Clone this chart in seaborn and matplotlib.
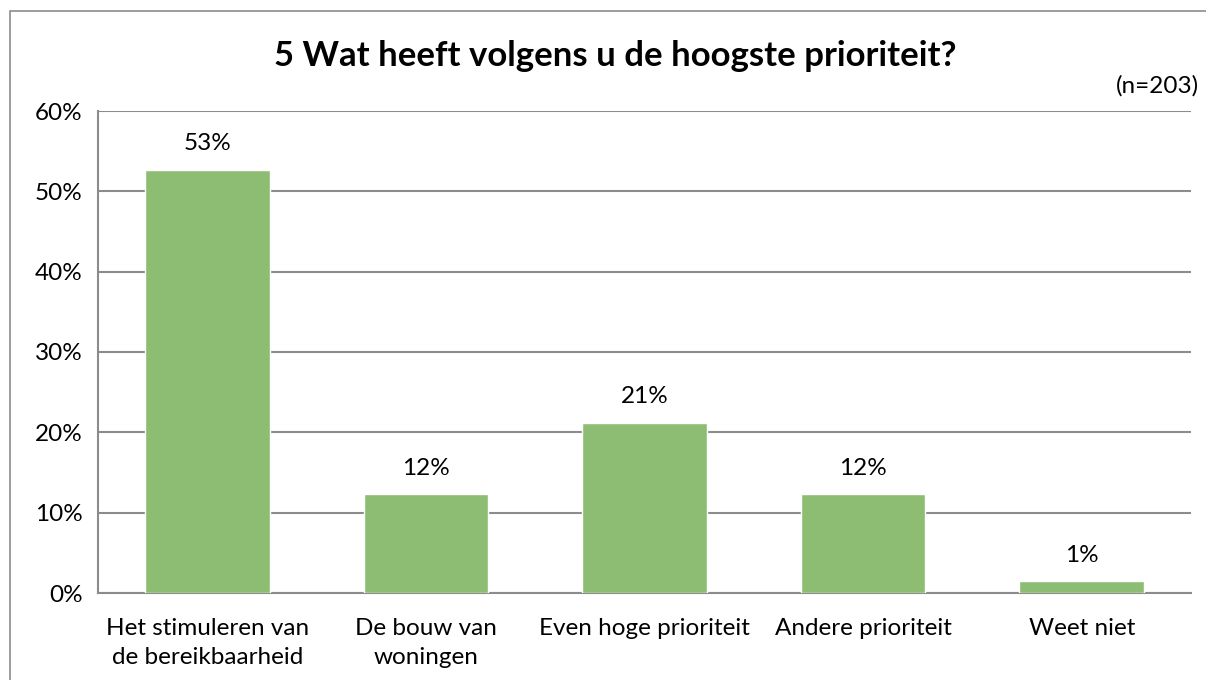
import pandas as pd
import matplotlib.pyplot as plt
import matplotlib
from matplotlib.patches import Rectangle
from matplotlib.ticker import FuncFormatter, MultipleLocator
import seaborn as sns

# Data
categories = ["Het stimuleren van\nde bereikbaarheid", "De bouw van\nwoningen",
              "Even hoge prioriteit", "Andere prioriteit", "Weet niet"]
percentages = [52.7, 12.3, 21.2, 12.3, 1.48]
title = "5 Wat heeft volgens u de hoogste prioriteit?"
n_label = "(n=203)"

sns.set_style("white")
matplotlib.rcParams['font.family'] = ['Lato', 'DejaVu Sans']
matplotlib.rcParams['text.color'] = 'black'
matplotlib.rcParams['xtick.color'] = 'black'
matplotlib.rcParams['ytick.color'] = 'black'

df = pd.DataFrame({'categorie': categories, 'pct': percentages})

fig = plt.figure(figsize=(12.06, 6.8), dpi=100)
ax = fig.add_axes([98 / 1206, 1 - 593 / 680, (1191 - 98) / 1206, (593 - 111) / 680])

grid_col = '#8c8c8c'
bar_col = '#8dbd72'

sns.barplot(data=df, x='categorie', y='pct', color=bar_col, width=0.57,
            saturation=1, ax=ax, zorder=3)

ax.set_ylim(0, 60)
ax.set_xlim(-0.5, len(categories) - 0.5)
ax.yaxis.set_major_locator(MultipleLocator(10))
ax.yaxis.set_major_formatter(FuncFormatter(lambda v, _: f"{v:.0f}%"))
ax.grid(axis='y', color=grid_col, linewidth=1.5, zorder=0)
ax.set_axisbelow(True)

# category ticks on the boundaries, as in the original
ax.set_xticks([i - 0.5 for i in range(len(categories) + 1)], minor=False)
ax.set_xticklabels([])
ax.set_xticks(range(len(categories)), minor=True)
ax.set_xticklabels(categories, minor=True, fontsize=17.5, linespacing=1.5)
ax.tick_params(axis='x', which='major', length=7, width=1.5, color=grid_col, direction='out')
ax.tick_params(axis='x', which='minor', length=0, pad=18, labelcolor='black')
ax.tick_params(axis='y', length=7, width=1.5, color=grid_col, labelsize=17.5, pad=4,
               labelcolor='black')

for side in ['top', 'right']:
    ax.spines[side].set_visible(False)
for side in ['left', 'bottom']:
    ax.spines[side].set_color(grid_col)
    ax.spines[side].set_linewidth(1.5)

ax.set_xlabel('')
ax.set_ylabel('')

for i, v in enumerate(percentages):
    ax.annotate(f"{v:.0f}%", (i, v), xytext=(0, 14), textcoords='offset points',
                ha='center', va='baseline', fontsize=17.5, color='black')

fig.text(615 / 1206, 1 - 56 / 680, title, ha='center', va='center',
         fontsize=25, fontweight='bold', color='black')
fig.text(1199 / 1206, 1 - 86 / 680, n_label, ha='right', va='center', fontsize=17.5,
         color='black')

# outer chart frame (only left and top edges fall inside the picture)
fig.patches.append(Rectangle((10 / 1206, -0.05), 1.1, 1 - 11 / 680 + 0.05,
                             transform=fig.transFigure, fill=False,
                             edgecolor='#8c8c8c', linewidth=1.2))

plt.savefig('out.png', dpi=100)
plt.close()
